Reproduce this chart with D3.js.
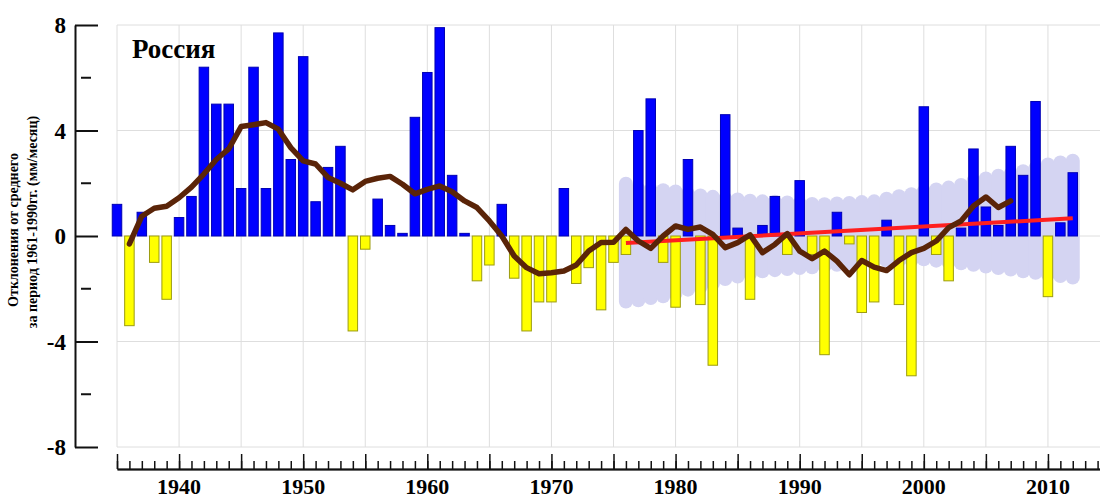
<!DOCTYPE html>
<html>
<head>
<meta charset="utf-8">
<script src="https://cdn.jsdelivr.net/npm/d3@7"></script>
<style>
  body { margin: 0; background: #fff; }
  text { font-family: "Liberation Serif", "Times New Roman", serif; font-weight: bold; fill: #000; }
</style>
</head>
<body>
<svg id="chart" width="1100" height="500"></svg>
<script>
// precipitation anomalies, Russia, one bar per year from 1935
var firstYear = 1935;
var anomalies = [
  1.2, -3.4, 0.9, -1.0, -2.4, 0.7, 1.5, 6.4, 5.0, 5.0,      // 1935-1944
  1.8, 6.4, 1.8, 7.7, 2.9, 6.8, 1.3, 2.6, 3.4, -3.6,        // 1945-1954
  -0.5, 1.4, 0.4, 0.1, 4.5, 6.2, 7.9, 2.3, 0.1, -1.7,       // 1955-1964
  -1.1, 1.2, -1.6, -3.6, -2.5, -2.5, 1.8, -1.8, -1.2, -2.8, // 1965-1974
  -1.0, -0.7, 4.0, 5.2, -1.0, -2.7, 2.9, -2.6, -4.9, 4.6,   // 1975-1984
  0.3, -2.4, 0.4, 1.5, -0.7, 2.1, -0.7, -4.5, 0.9, -0.3,    // 1985-1994
  -2.9, -2.5, 0.6, -2.6, -5.3, 4.9, -0.7, -1.7, 0.3, 3.3,   // 1995-2004
  1.1, 0.4, 3.4, 2.3, 5.1, -2.3, 0.5, 2.4                   // 2005-2012
];

// smoothed curve (brown), from 1936
var smoothStart = 1936;
var smoothed = [
  -0.3, 0.75, 1.05, 1.13, 1.45, 1.85, 2.35, 2.9, 3.3,        // 1936-1944
  4.15, 4.22, 4.3, 4.05, 3.35, 2.85, 2.73, 2.22, 2.0, 1.75,  // 1945-1954
  2.07, 2.19, 2.26, 1.96, 1.6, 1.77, 1.9, 1.68, 1.33, 1.08,  // 1955-1964
  0.57, 0.0, -0.76, -1.2, -1.43, -1.39, -1.33, -1.1, -0.57, -0.25, // 1965-1974
  -0.24, 0.25, -0.19, -0.47, 0.0, 0.38, 0.25, 0.34, 0.06, -0.44,   // 1975-1984
  -0.25, 0.04, -0.63, -0.32, 0.09, -0.57, -0.86, -0.57, -0.95, -1.47, // 1985-1994
  -0.93, -1.18, -1.31, -0.93, -0.63, -0.47, -0.19, 0.32, 0.57, 1.14,  // 1995-2004
  1.48, 1.08, 1.33                                                    // 2005-2007
];

// shaded interval, from 1976
var bandStart = 1976;
var bandUpper = [
  2.25, 2.05, 2.0, 2.0, 1.95, 1.85, 1.8, 1.75, 1.68, 1.65,
  1.6, 1.58, 1.56, 1.54, 1.5, 1.48, 1.47, 1.5, 1.52, 1.55,
  1.58, 1.68, 1.77, 1.85, 1.95, 2.03, 2.1, 2.2, 2.35, 2.45,
  2.55, 2.62, 2.72, 2.85, 2.98, 3.05, 3.12
];
var bandLower = [
  -2.75, -2.7, -2.62, -2.55, -2.45, -2.3, -2.2, -2.08, -1.9, -1.8,
  -1.7, -1.6, -1.56, -1.52, -1.48, -1.45, -1.4, -1.36, -1.32, -1.28,
  -1.24, -1.2, -1.2, -1.18, -1.15, -1.2, -1.25, -1.3, -1.36, -1.42,
  -1.48, -1.54, -1.6, -1.66, -1.72, -1.78, -1.84
];

// linear trend (red)
var trendYears = [1976, 2012];
var trendValues = [-0.27, 0.67];

var yTicks = [-8, -4, 0, 4, 8];
var yMinorTicks = [-6, -2, 2, 6];
var xLabels = [1940, 1950, 1960, 1970, 1980, 1990, 2000, 2010];
var title = "Россия";
var yTitle = ["Отклонения от среднего", "за период 1961-1990гг. (мм/месяц)"];

var svg = d3.select("#chart");
svg.append("rect").attr("width", 1100).attr("height", 500).attr("fill", "#fff");

var x = d3.scaleLinear().domain([1935, 2015]).range([117, 1110]);
var y = d3.scaleLinear().domain([-8, 8]).range([447, 25]);
var barW = 9.5;

// grid
var gridYears = d3.range(1935, 2016, 5);
svg.append("g").selectAll("line").data(gridYears).enter().append("line")
    .attr("x1", function(d) { return x(d); })
    .attr("x2", function(d) { return x(d); })
    .attr("y1", y(8)).attr("y2", y(-8))
    .attr("stroke", "#dedede").attr("stroke-width", 1);
svg.append("g").selectAll("line").data(yTicks).enter().append("line")
    .attr("x1", x(1935)).attr("x2", 1100)
    .attr("y1", function(d) { return y(d); })
    .attr("y2", function(d) { return y(d); })
    .attr("stroke", "#dedede").attr("stroke-width", 1);

// shaded band, one rounded stroke per year gives the scalloped edge
var bandR = 7;
var band = bandUpper.map(function(u, i) {
  return {year: bandStart + i, hi: u, lo: bandLower[i]};
});
svg.append("g").selectAll("line").data(band).enter().append("line")
    .attr("x1", function(d) { return x(d.year); })
    .attr("x2", function(d) { return x(d.year); })
    .attr("y1", function(d) { return y(d.hi) + bandR; })
    .attr("y2", function(d) { return y(d.lo) - bandR; })
    .attr("stroke", "#d4d4f2")
    .attr("stroke-width", bandR * 2)
    .attr("stroke-linecap", "round");

// bars
var bars = anomalies.map(function(v, i) { return {year: firstYear + i, val: v}; });
svg.append("g").selectAll("rect").data(bars).enter().append("rect")
    .attr("x", function(d) { return x(d.year) - barW / 2; })
    .attr("width", barW)
    .attr("y", function(d) { return y(Math.max(d.val, 0)); })
    .attr("height", function(d) { return Math.abs(y(d.val) - y(0)); })
    .attr("fill", function(d) { return d.val >= 0 ? "#0000ff" : "#ffff00"; })
    .attr("stroke", function(d) { return d.val >= 0 ? "#0000b4" : "#9c9c10"; })
    .attr("stroke-width", 1);

// trend
svg.append("line")
    .attr("x1", x(trendYears[0])).attr("y1", y(trendValues[0]))
    .attr("x2", x(trendYears[1])).attr("y2", y(trendValues[1]))
    .attr("stroke", "#ff1f1f").attr("stroke-width", 4);

// smoothed curve
var line = d3.line()
    .x(function(d, i) { return x(smoothStart + i); })
    .y(function(d) { return y(d); });
svg.append("path")
    .datum(smoothed)
    .attr("d", line)
    .attr("fill", "none")
    .attr("stroke", "#5a2408")
    .attr("stroke-width", 5.5)
    .attr("stroke-linejoin", "round")
    .attr("stroke-linecap", "round");

// y axis
var yAxis = svg.append("g").attr("transform", "translate(75,0)")
    .call(d3.axisRight(y).tickValues(yTicks).tickSize(23).tickSizeOuter(0).tickFormat(""));
yAxis.selectAll("path, line").attr("stroke", "#111").attr("stroke-width", 2);
svg.append("g").selectAll("line").data(yMinorTicks).enter().append("line")
    .attr("x1", 81).attr("x2", 91)
    .attr("y1", function(d) { return y(d); })
    .attr("y2", function(d) { return y(d); })
    .attr("stroke", "#111").attr("stroke-width", 2);
svg.append("g").selectAll("text").data(yTicks).enter().append("text")
    .attr("x", 66)
    .attr("y", function(d) { return y(d) + 8; })
    .attr("text-anchor", "end")
    .style("font-size", "23px")
    .text(function(d) { return d; });

// x axis: ticks every year, longer every 5 years, pointing up
var allYears = d3.range(1935, 2016);
var xMinor = svg.append("g").attr("transform", "translate(0,469)")
    .call(d3.axisTop(x).tickValues(allYears).tickSize(8).tickSizeOuter(0).tickFormat(""));
var xMajor = svg.append("g").attr("transform", "translate(0,469)")
    .call(d3.axisTop(x).tickValues(gridYears).tickSize(15).tickSizeOuter(0).tickFormat(""));
xMinor.selectAll("path, line").attr("stroke", "#111").attr("stroke-width", 1.5);
xMajor.selectAll("line").attr("stroke", "#111").attr("stroke-width", 1.5);
xMajor.select("path").attr("stroke", "#111").attr("stroke-width", 2);
svg.append("g").selectAll("text").data(xLabels).enter().append("text")
    .attr("x", function(d) { return x(d); })
    .attr("y", 494)
    .attr("text-anchor", "middle")
    .style("font-size", "22px")
    .text(function(d) { return d; });

// title and y label
svg.append("text").attr("x", 132).attr("y", 58)
    .style("font-size", "27px").text(title);
svg.append("text")
    .attr("transform", "translate(18,230) rotate(-90)")
    .attr("text-anchor", "middle")
    .style("font-size", "14px")
    .text(yTitle[0]);
svg.append("text")
    .attr("transform", "translate(37,222) rotate(-90)")
    .attr("text-anchor", "middle")
    .style("font-size", "14px")
    .text(yTitle[1]);
</script>
</body>
</html>
